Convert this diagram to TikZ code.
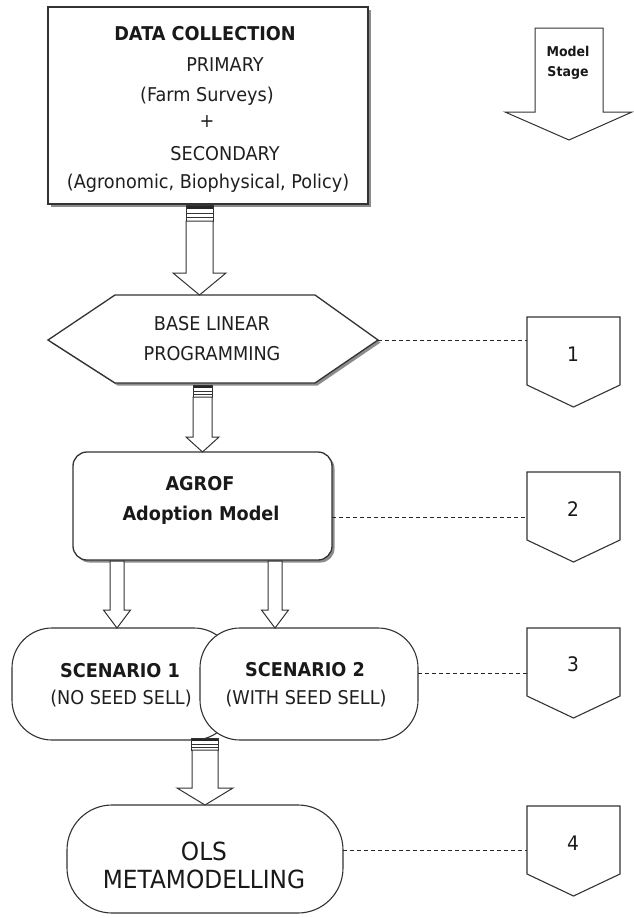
\documentclass[tikz,border=0pt]{standalone}
\usepackage{fontspec}
\setmainfont{DejaVu Sans}[FakeStretch=0.93]
\usetikzlibrary{shadows,calc}

% block arrow between two points: start, tip, shaft half width, head half width, head length
\newcommand\blockarrow[5]{%
  \draw[arrowbody] let \p1=(#1), \p2=(#2) in
    (\x1-#3,\y1) -- (\x1+#3,\y1) -- (\x1+#3,\y2+#5) -- (\x1+#4,\y2+#5)
    -- (\x2,\y2) -- (\x1-#4,\y2+#5) -- (\x1-#3,\y2+#5) -- cycle;}

% barred tail of a connector: bottom centre, half width, height
\newcommand\tailbar[3]{%
  \fill[white] let \p1=(#1) in (\x1-#2,\y1) rectangle (\x1+#2,\y1+#3);
  \fill[black!85] let \p1=(#1) in (\x1-#2,\y1+#3) rectangle (\x1+#2,\y1+#3*0.72);
  \draw[barline] let \p1=(#1) in (\x1-#2,\y1) rectangle (\x1+#2,\y1+#3)
    (\x1-#2,\y1+#3*0.45) -- (\x1+#2,\y1+#3*0.45)
    (\x1-#2,\y1+#3*0.2) -- (\x1+#2,\y1+#3*0.2);}

\begin{document}
\begin{tikzpicture}[x=1pt,y=-1pt,
  boxline/.style={draw=black!80, line width=1.3pt, fill=white},
  thinbox/.style={draw=black!80, line width=1.1pt, fill=white},
  shade/.style={drop shadow={shadow xshift=2.5pt,shadow yshift=-2.5pt,fill=black!45,opacity=1}},
  arrowbody/.style={draw=black!80, line width=1pt, fill=white},
  barline/.style={draw=black!80, line width=0.8pt},
  dashlink/.style={draw=black!85, line width=1pt, dash pattern=on 4pt off 3pt},
  txt/.style={font=\fontsize{19}{22}\selectfont, text=black!88, inner sep=0pt, anchor=base},
  btxt/.style={font=\fontsize{19}{22}\selectfont\bfseries, text=black!90, inner sep=0pt, anchor=base},
  bigtxt/.style={font=\fontsize{25}{28}\selectfont, text=black!90, inner sep=0pt, anchor=base},
  numtxt/.style={font=\fontsize{20}{22}\selectfont, text=black!90, inner sep=0pt, anchor=base},
  stagetxt/.style={font=\fontsize{13.5}{15}\selectfont\bfseries, text=black!90, inner sep=0pt, anchor=base},
  stage/.pic={\draw[thinbox] (-46.5,0) -- (46.5,0) -- (46.5,68) -- (0,90) -- (-46.5,68) -- cycle;}
]
\useasboundingbox (0,0) rectangle (633,918);

% ---- data collection ----
\node[boxline, shade, minimum width=320pt, minimum height=197pt] (dc) at (208,105.5) {};
\node[btxt] (dct) at (205,40) {DATA COLLECTION};
\node[txt] (dpri) at (225,71) {PRIMARY};
\node[txt] (dfarm) at (207,101.5) {(Farm Surveys)};
\node[txt] (dplus) at (207,127) {+};
\node[txt] (dsec) at (225,160) {SECONDARY};
\node[txt] (dagr) at (208,188) {(Agronomic, Biophysical, Policy)};

% ---- base linear programming ----
\draw[boxline, shade] (48,340) -- (115,295) -- (315,295) -- (378,340) -- (315,383) -- (115,383) -- cycle;
\coordinate (blpN) at (199.5,295);
\coordinate (blpS) at (202.5,397);
\coordinate (blpE) at (378,340);
\node[txt] (blp1) at (212,330) {BASE LINEAR};
\node[txt] (blp2) at (212,360) {PROGRAMMING};

% ---- adoption model ----
\node[boxline, shade, rounded corners=14pt, minimum width=259pt, minimum height=108pt] (agr) at (202.5,506) {};
\node[btxt] (agr1) at (200,490) {AGROF};
\node[btxt] (agr2) at (201,520) {Adoption Model};
\coordinate (agrE) at (332,517);

% ---- scenarios ----
\node[thinbox, rounded corners=40pt, minimum width=222pt, minimum height=112pt] (sc1) at (123,684) {};
\node[thinbox, rounded corners=40pt, minimum width=218pt, minimum height=112pt] (sc2) at (309,684) {};
\node[btxt] (sc1a) at (120,677) {SCENARIO 1};
\node[txt] (sc1b) at (121,704) {(NO SEED SELL)};
\node[btxt] (sc2a) at (305,676) {SCENARIO 2};
\node[txt] (sc2b) at (306,704) {(WITH SEED SELL)};
\coordinate (sc2E) at (418,673);

% ---- metamodelling ----
\node[thinbox, rounded corners=45pt, minimum width=276pt, minimum height=108pt] (ols) at (205,859) {};
\node[bigtxt] (ols1) at (204,860) {OLS};
\node[bigtxt] (ols2) at (204,888) {METAMODELLING};
\coordinate (olsE) at (343,850);

% ---- connectors ----
\coordinate (a1s) at (199.5,221);
\tailbar{a1s}{13.5pt}{16pt}
\blockarrow{a1s}{blpN}{13.5pt}{26.5pt}{22pt}

\coordinate (agrN) at (202.5,452);
\tailbar{blpS}{9.5pt}{12pt}
\blockarrow{blpS}{agrN}{9.5pt}{16.5pt}{15pt}

\coordinate (agrSL) at (117,561);
\coordinate (agrSR) at (275,561);
\coordinate (sc1N) at (117,628);
\coordinate (sc2N) at (275,628);
\blockarrow{agrSL}{sc1N}{7pt}{13.5pt}{18pt}
\blockarrow{agrSR}{sc2N}{7pt}{13.5pt}{18pt}

\coordinate (scS) at (205,750);
\coordinate (olsN) at (205,805);
\tailbar{scS}{13.5pt}{12pt}
\blockarrow{scS}{olsN}{13pt}{28pt}{17pt}

% ---- model stage key ----
\draw[arrowbody] (535,28) -- (603,28) -- (603,112) -- (632,112) -- (569,140) -- (505,112) -- (535,112) -- cycle;
\node[stagetxt] (ms1) at (568,56.5) {Model};
\node[stagetxt] (ms2) at (568,76.5) {Stage};

\pic at (573.5,317) {stage};
\pic at (573.5,472) {stage};
\pic at (573.5,628) {stage};
\pic at (573.5,806) {stage};
\node[numtxt] (n1) at (573,361) {1};
\node[numtxt] (n2) at (573,516) {2};
\node[numtxt] (n3) at (573,671) {3};
\node[numtxt] (n4) at (573,850) {4};
\coordinate (st1W) at (527,340);
\coordinate (st2W) at (527,517);
\coordinate (st3W) at (527,673);
\coordinate (st4W) at (527,850);

\draw[dashlink] (blpE) -- (st1W);
\draw[dashlink] (agrE) -- (st2W);
\draw[dashlink] (sc2E) -- (st3W);
\draw[dashlink] (olsE) -- (st4W);
\end{tikzpicture}
\end{document}
